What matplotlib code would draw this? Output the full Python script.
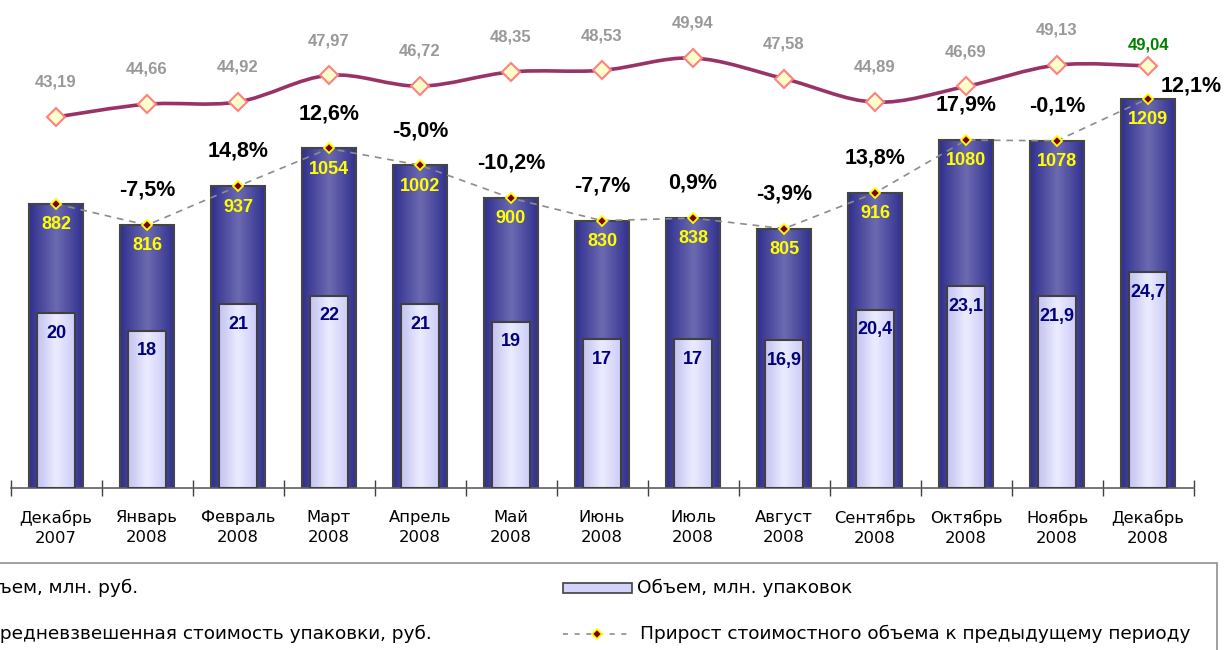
import numpy as np
import matplotlib
matplotlib.use("Agg")
import matplotlib.pyplot as plt
from matplotlib.path import Path
from matplotlib.patches import PathPatch, Rectangle
from matplotlib.lines import Line2D
from matplotlib.colors import LinearSegmentedColormap

plt.rcParams['font.family'] = ['DejaVu Sans']

# data
months = ["Декабрь\n2007", "Январь\n2008", "Февраль\n2008", "Март\n2008",
          "Апрель\n2008", "Май\n2008", "Июнь\n2008", "Июль\n2008",
          "Август\n2008", "Сентябрь\n2008", "Октябрь\n2008", "Ноябрь\n2008",
          "Декабрь\n2008"]
value_rub = [882, 816, 937, 1054, 1002, 900, 830, 838, 805, 916, 1080, 1078, 1209]
volume_pack = [20, 18, 21, 22, 21, 19, 17, 17, 16.9, 20.4, 23.1, 21.9, 24.7]
volume_labels = ["20", "18", "21", "22", "21", "19", "17", "17", "16,9", "20,4",
                 "23,1", "21,9", "24,7"]
avg_price = [43.19, 44.66, 44.92, 47.97, 46.72, 48.35, 48.53, 49.94, 47.58,
             44.89, 46.69, 49.13, 49.04]
growth = [None, "-7,5%", "14,8%", "12,6%", "-5,0%", "-10,2%", "-7,7%", "0,9%",
          "-3,9%", "13,8%", "17,9%", "-0,1%", "12,1%"]

W, H = 1224, 650
fig = plt.figure(figsize=(W / 100, H / 100), dpi=100)


def fx(px):
    return px / W


def fy(py):
    return 1 - py / H


ax = fig.add_axes([fx(10.5), fy(488), (1193.5 - 10.5) / W, 488 / H])
ax2 = ax.twinx()
ax3 = ax.twinx()
x = np.arange(len(months))

outer_cmap = LinearSegmentedColormap.from_list("outer", ["#30308f", "#6c6ab0", "#30308f"])
inner_cmap = LinearSegmentedColormap.from_list("inner", ["#c2c2f0", "#ececff", "#cdcdf8"])
grad = np.linspace(0, 1, 64).reshape(1, -1)


def gradient_bars(a, bars, cmap):
    for b in bars:
        x0, y0 = b.get_x(), b.get_y()
        im = a.imshow(grad, extent=[x0, x0 + b.get_width(), y0, y0 + b.get_height()],
                      aspect="auto", cmap=cmap, zorder=b.get_zorder() - 0.1,
                      interpolation="bilinear")
        im.set_clip_path(b)


# outer bars: value, mln rub
bars1 = ax.bar(x, value_rub, width=0.6, facecolor="none", edgecolor="#454545",
               linewidth=1.5, zorder=2)
gradient_bars(ax, bars1, outer_cmap)
ax.plot(x, value_rub, linestyle=(0, (4, 3.5)), color="#8c8c8c", linewidth=1.2,
        marker="D", markersize=5.5, markerfacecolor="#800000",
        markeredgecolor="#ffff00", markeredgewidth=1.3, zorder=4)
for i, v in enumerate(value_rub):
    ax.annotate(str(v), (i, v), xytext=(0, -15), textcoords="offset points",
                ha="center", va="center", color="#ffff00", fontsize=13,
                fontweight="bold", family="Liberation Sans", zorder=5)
    if growth[i] is None:
        continue
    if i == len(value_rub) - 1:
        off = (31, 9)
    else:
        off = (0, 25)
    ax.annotate(growth[i], (i, v), xytext=off, textcoords="offset points",
                ha="center", va="center", color="black", fontsize=15.5,
                fontweight="bold", family="Liberation Sans", zorder=5)

ax.set_xlim(-0.5, len(months) - 0.5)
ax.set_ylim(0, 1515)

# inner bars: volume, mln packs
bars2 = ax2.bar(x, volume_pack, width=0.41, facecolor="none", edgecolor="#404040",
                linewidth=1.5, zorder=2)
gradient_bars(ax2, bars2, inner_cmap)
for i, v in enumerate(volume_pack):
    ax2.annotate(volume_labels[i], (i, v), xytext=(0, -14.5), textcoords="offset points",
                 ha="center", va="center", color="#000080", fontsize=13,
                 fontweight="bold", family="Liberation Sans", zorder=5)
ax2.set_xlim(-0.5, len(months) - 0.5)
ax2.set_ylim(0, 55.8)

# average price line (smoothed)
pts = np.column_stack([x, avg_price]).astype(float)
verts = [pts[0]]
codes = [Path.MOVETO]
n = len(pts)
for i in range(n - 1):
    p0 = pts[max(i - 1, 0)]
    p1 = pts[i]
    p2 = pts[i + 1]
    p3 = pts[min(i + 2, n - 1)]
    verts += [p1 + (p2 - p0) / 6, p2 - (p3 - p1) / 6, p2]
    codes += [Path.CURVE4] * 3
ax3.add_patch(PathPatch(Path(verts, codes), facecolor="none", edgecolor="#993366",
                        linewidth=2.6, zorder=3))
ax3.plot(x, avg_price, linestyle="none", marker="D", markersize=9.5,
         markerfacecolor="#ffffcc", markeredgecolor="#ff8080", markeredgewidth=1.5,
         zorder=4)
for i, v in enumerate(avg_price):
    last = i == n - 1
    ax3.annotate(f"{v:.2f}".replace(".", ","), (i, v),
                 xytext=(0, 15 if last else 25), textcoords="offset points",
                 ha="center", va="center", color="#008000" if last else "#999999",
                 fontsize=12, fontweight="bold", family="Liberation Sans", zorder=5)
ax3.set_xlim(-0.5, len(months) - 0.5)
ax3.set_ylim(0.74, 56.58)

for a in (ax, ax2, ax3):
    for s in ("top", "left", "right"):
        a.spines[s].set_visible(False)
    a.spines["bottom"].set_visible(a is ax)
    a.set_yticks([])
ax2.set_xticks([])
ax3.set_xticks([])

ax.spines["bottom"].set_color("#606060")
ax.spines["bottom"].set_linewidth(1.2)
ax.set_xticks(x)
ax.set_xticklabels(months, fontsize=11.8, linespacing=1.4)
ax.tick_params(axis="x", which="major", length=0, pad=16)
ax.set_xticks(np.arange(-0.5, len(months)), minor=True)
ax.tick_params(axis="x", which="minor", length=12, direction="inout",
               color="#404040", width=1)

# legend (manual, left part runs off the figure as in the source)
fig.add_artist(Rectangle((fx(-10), fy(680)), (1217 + 10) / W, (680 - 563) / H,
                         transform=fig.transFigure, facecolor="none",
                         edgecolor="#909090", linewidth=1.2))
leg_font = 13.3
fig.text(fx(138), fy(588), "Стоимостный объем, млн. руб.", ha="right", va="center",
         fontsize=leg_font)
fig.text(fx(432), fy(634), "Средневзвешенная стоимость упаковки, руб.", ha="right",
         va="center", fontsize=leg_font)
fig.add_artist(Rectangle((fx(563), fy(593)), 69 / W, 10 / H, transform=fig.transFigure,
                         facecolor="#d2d2fa", edgecolor="#404040", linewidth=1.2))
fig.text(fx(637), fy(588), "Объем, млн. упаковок", ha="left", va="center",
         fontsize=leg_font)
fig.add_artist(Line2D([fx(563), fx(632)], [fy(634), fy(634)], transform=fig.transFigure,
                      linestyle=(0, (3, 4)), color="#8c8c8c", linewidth=1.2))
fig.add_artist(Line2D([fx(597)], [fy(634)], transform=fig.transFigure, marker="D",
                      markersize=5.5, markerfacecolor="#800000",
                      markeredgecolor="#ffff00", markeredgewidth=1.3))
fig.text(fx(640), fy(634), "Прирост стоимостного объема к предыдущему периоду",
         ha="left", va="center", fontsize=leg_font)

fig.savefig("out.png", dpi=100)
